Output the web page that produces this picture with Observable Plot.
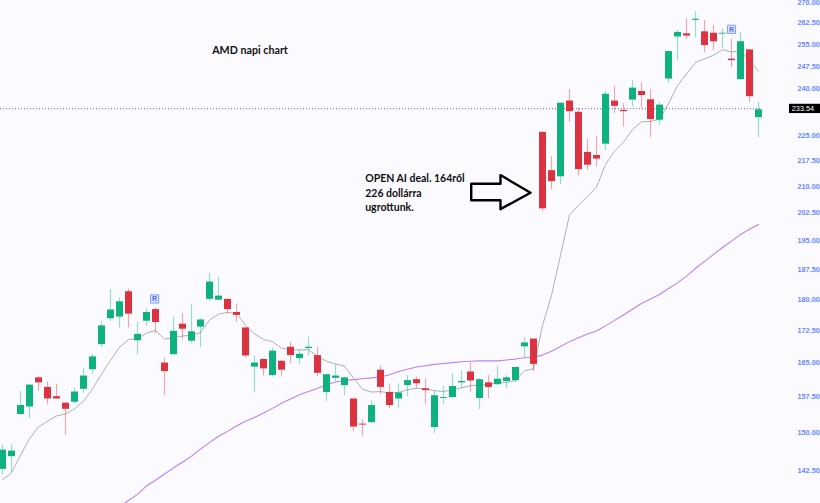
<!DOCTYPE html>
<html>
<head>
<meta charset="utf-8">
<script src="https://cdn.jsdelivr.net/npm/d3@7"></script>
<script src="https://cdn.jsdelivr.net/npm/@observablehq/plot@0.6"></script>
<style>
html,body{margin:0;padding:0;background:#fbfbff;}
svg{display:block;}
</style>
</head>
<body>
<div id="chart"></div>
<script>
const opens = [142.7,145.2,153.8,155.4,161.7,159.6,157.6,156.2,156.4,159.2,163.5,169.2,175.3,175.7,181.9,170.1,174.7,177.5,165,166.9,174,170,173.3,180,179.8,180,176.8,173.1,164.1,165.8,162.2,165.4,168.6,166,168.3,166.7,158.5,161.6,160,157.1,151.8,152.1,163.4,158.5,157.1,160,161.3,159.3,151.1,157.2,157.4,160.6,163,157.2,160.6,160.2,160.9,161.1,168.7,170.5,226.1,214.6,212.8,236,232.4,220,219.1,222.5,236,233,236.3,239.1,236.4,229.9,243.2,257.6,258.7,263.5,259.4,258.9,258.6,249.9,243,253.1,230.7];
const highs = [147.5,147.6,158.7,160.3,162,160.8,160.3,156.2,159.5,163.9,167,174.7,182.4,180.3,182.5,174.4,177.8,177.9,166.1,175.7,176.5,178.8,175.2,186.5,185.5,180,178.8,173.1,166.6,166,168.4,165.6,169.7,167.9,171,168.6,162.4,164.7,161.9,157.1,152.7,156.7,164.4,160.3,160.4,162.2,161.9,161.5,158.9,159.8,162.7,163.3,165.1,161.5,162.2,164.3,162.2,164,170.9,170.5,226.4,218.7,235.5,239.8,233.7,223.9,224.9,239.1,240.9,235.2,242.6,242,239.8,235.6,252.7,260,264.2,266.6,263.4,261.7,260.4,256.9,259.1,253.1,235.6];
const lows = [141.7,142.1,153.6,152.9,158.8,155.8,157.1,149.5,156.1,158.4,162.5,168.6,174.7,173.1,173.1,166.9,173.5,171.8,157.8,166.8,170.4,169.4,168.5,179.4,179.6,176.4,174.4,166.1,158.4,162.1,161.9,161.9,164.9,164.7,166.7,162,156.6,160.9,157.8,150.3,149.3,152,158,155,155,157.6,159.3,155.8,149.9,155.9,157.4,159.4,158.5,154.8,157.1,160,159.3,160.6,166.2,163.1,202.9,209.1,210.6,229.3,213,214.7,215.6,220.6,232.1,227.7,234,233.8,224.6,228.3,241.7,249.4,256.7,257.2,252.1,252.9,253.5,247,242.7,235.5,224.5];
const closes = [146.5,146.3,155.7,160.1,160.6,157.1,157.1,154.9,158.6,162.1,166.4,173.6,177.4,179.4,176.4,171.6,176.8,174.4,163.1,172.3,172.8,172.2,175,184.3,180.8,177.5,176.1,166.6,165,163.7,167.7,163.4,166.7,167,168.6,162.7,162.4,162.1,161.7,151.2,151.6,155.7,159.6,155.7,158.4,161.1,160.4,158.9,157.8,157.4,159.8,160.9,161,161.3,159.6,161.4,161.7,164,169.6,164.7,203.7,211.4,235.3,232.6,214.9,216.2,218,238.2,234.3,232.6,240.2,237.8,230.1,234.7,252.5,259.2,257.9,263.9,254.6,255.9,258.9,249.4,255.9,237.4,233.2];
const maFast = [140.7,142,145.5,148.8,151.2,152.4,153.5,153.9,155,156.6,159.3,162.5,165.6,168.6,170.4,170.6,171.9,172.5,170.5,170.8,171.2,171.4,172,175,176.4,176.8,176.6,173.7,171.7,170.4,169.9,168.4,168,168,168,166.6,165.4,164.8,164.3,161.7,159.2,158.6,158.7,158.4,158.5,159.1,159.4,159.3,158.9,158.7,159.1,159.5,160,160.1,160.3,160.6,160.7,161.1,163.3,163.7,173.7,181,191.2,202,204.7,207.2,209.8,216.4,220.4,223.1,227,229.4,229.5,230.2,235.2,241,244.9,248.8,250,251.2,253.2,252.3,252.9,249.4,245.8];
const maSlowStart = 13;
const maSlow = [135.6,136.75,137.9,139.5,140.6,141.8,143,144.1,145.3,146.7,148,149.3,150.3,151.4,152.4,153.2,154.1,155.1,156.2,157.1,158,158.7,159.4,160.2,160.8,161.1,161.3,161.5,161.7,161.9,162.4,163.1,163.6,164.1,164.4,164.7,164.9,165.1,165.3,165.4,165.5,165.5,165.5,165.7,165.9,166.2,166.3,166.8,167.7,168.8,169.9,170.8,171.7,172.4,173.6,174.9,176.2,177.6,179,180.1,181.2,182.7,184.1,185.8,187.8,189.6,191.4,193.2,194.9,196.7,198.1,199.4];
const tickLabels = [270,262.5,255,247.5,240,225,217.5,210,202.5,195,187.5,180,172.5,165,157.5,150,142.5];
const lastPrice = 233.54;
const arrowX = [52.08,55.33,55.33,58.67,55.33,55.33,52.08,52.08];
const arrowY = [210.8,210.8,213.3,208.2,203.6,206.1,206.1,210.8];
const badges = [{i:16.9,p:180.1},{i:81,p:260.3}];
const notes = [
  {i:40.3,p:212.3,t:"OPEN AI deal. 164ről"},
  {i:40.3,p:208,t:"226 dollárra"},
  {i:40.3,p:204,t:"ugrottunk."}
];
const titleText = [{i:23.3,p:252.9,t:"AMD napi chart"}];

const candles = opens.map((o,i)=>({i,o,h:highs[i],l:lows[i],c:closes[i]}));
const fastRows = maFast.map((v,i)=>({i,v}));
const slowRows = maSlow.map((v,k)=>({i:k+maSlowStart,v}));
const arrowRows = arrowX.map((x,k)=>({x,y:arrowY[k]}));
const UP="#0db27f", DOWN="#dd3340";
const colorOf = d => d.c>=d.o ? UP : DOWN;
const LABEL="#6c88ff";
const font = "Lato, 'Open Sans', sans-serif";

const chart = Plot.plot({
  width:820, height:503,
  marginLeft:0, marginRight:60, marginTop:0, marginBottom:0,
  style:{background:"#fbfbff",overflow:"visible"},
  x:{domain:[-0.2222,84.2222],axis:null},
  y:{type:"log",domain:[136.2,270.74],axis:null},
  marks:[
    Plot.axisY(tickLabels,{anchor:"right",tickSize:0,tickPadding:37,label:null,
      tickFormat:d3.format(".2f"),fill:LABEL,fontSize:7.3,fontWeight:700,fontFamily:"Liberation Sans, sans-serif"}),
    Plot.ruleY([lastPrice],{x1:-0.2222,x2:84.2222,stroke:"#5566bb",strokeWidth:1,strokeDasharray:"1,2"}),
    Plot.line(slowRows,{x:"i",y:"v",stroke:"#b981f5",strokeWidth:1.1}),
    Plot.line(fastRows,{x:"i",y:"v",stroke:"#b0b0b0",strokeWidth:1}),
    Plot.ruleX(candles,{x:"i",y1:"l",y2:"h",stroke:colorOf,strokeOpacity:0.42,strokeWidth:1.2}),
    Plot.ruleX(candles,{x:"i",y1:"o",y2:"c",stroke:colorOf,strokeWidth:7}),
    Plot.dot(badges,{x:"i",y:"p",symbol:"square",r:4.6,fill:"#dfe6ff",stroke:"#7f9bff",strokeWidth:1,strokeLinejoin:"round"}),
    Plot.text(badges,{x:"i",y:"p",text:()=>"R",fill:"#4a6bff",fontSize:7,fontWeight:700,fontFamily:"Liberation Sans, sans-serif"}),
    Plot.line(arrowRows,{x:"x",y:"y",stroke:"#000",strokeWidth:2.4,strokeLinejoin:"round"}),
    Plot.text(notes,{x:"i",y:"p",text:"t",textAnchor:"start",fill:"#111",fontSize:10.5,fontWeight:700,fontFamily:font}),
    Plot.text(titleText,{x:"i",y:"p",text:"t",textAnchor:"start",fill:"#111",fontSize:10.7,fontWeight:700,fontFamily:font}),
    Plot.rect([{x1:87.44,x2:91,y1:232,y2:234.95}],{x1:"x1",x2:"x2",y1:"y1",y2:"y2",fill:"#000",clip:false}),
    Plot.text([lastPrice],{x:87.7,y:d=>d,text:d=>d3.format(".2f")(d),textAnchor:"start",fill:"#fff",fontSize:7.3,fontFamily:"Liberation Sans, sans-serif"})
  ]
});
document.getElementById("chart").append(chart);
</script>
</body>
</html>
